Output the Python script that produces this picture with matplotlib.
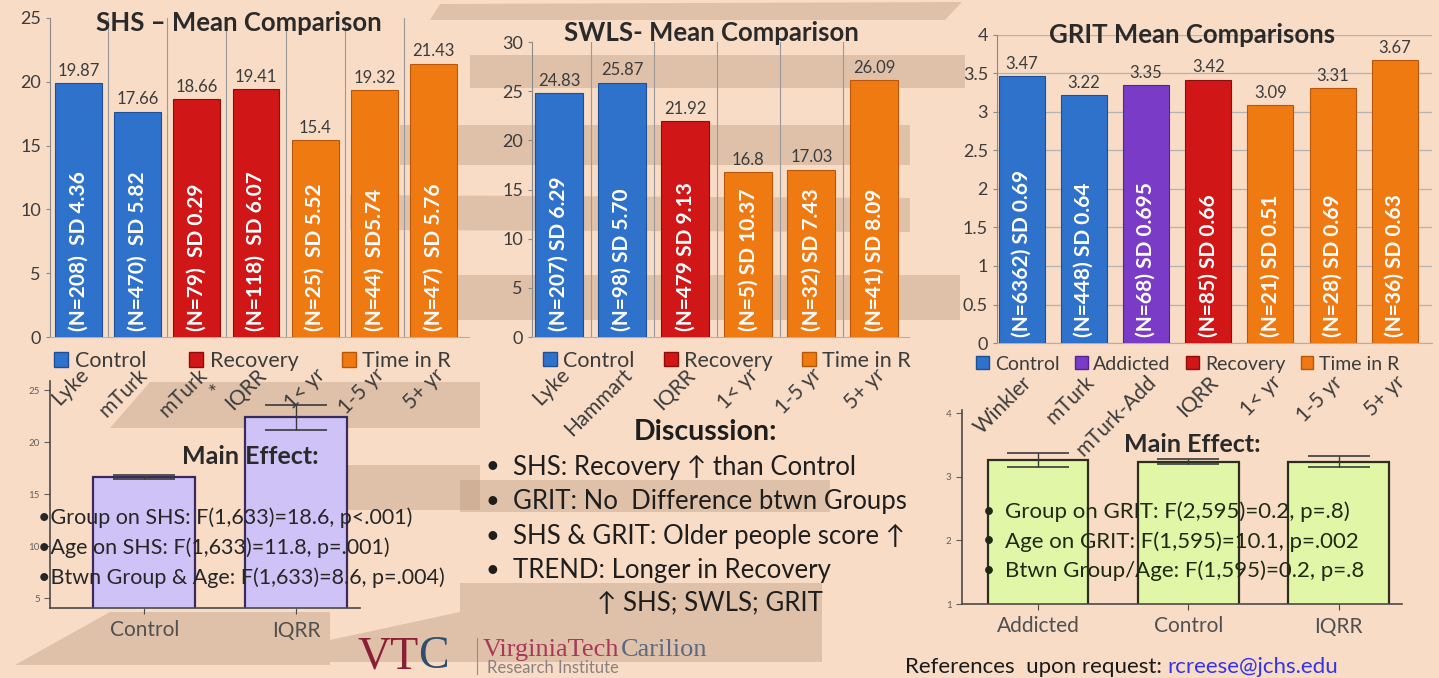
import matplotlib
matplotlib.use("Agg")
import numpy as np
import matplotlib.pyplot as plt
from matplotlib.patches import Patch, Polygon
from matplotlib.ticker import FixedLocator

# poster size in pixels
W, H = 1439, 678

# SHS means
shs_labels = ['Lyke', 'mTurk', 'mTurk\n*', 'IQRR', '1< yr', '1-5 yr', '5+ yr']
shs_means = [19.87, 17.66, 18.66, 19.41, 15.4, 19.32, 21.43]
shs_inbar = ['(N=208)  SD 4.36', '(N=470)  SD 5.82', '(N=79)  SD 0.29', '(N=118)  SD 6.07',
             '(N=25)  SD 5.52', '(N=44)  SD5.74', '(N=47)  SD 5.76']
shs_group = ['Control', 'Control', 'Recovery', 'Recovery', 'Time in R', 'Time in R', 'Time in R']

# SWLS means
swls_labels = ['Lyke', 'Hammart', 'IQRR', '1< yr', '1-5 yr', '5+ yr']
swls_means = [24.83, 25.87, 21.92, 16.8, 17.03, 26.09]
swls_inbar = ['(N=207) SD 6.29', '(N=98) SD 5.70', '(N=479 SD 9.13', '(N=5) SD 10.37',
              '(N=32) SD 7.43', '(N=41) SD 8.09']
swls_group = ['Control', 'Control', 'Recovery', 'Time in R', 'Time in R', 'Time in R']

# GRIT means
grit_labels = ['Winkler', 'mTurk', 'mTurk-Add', 'IQRR', '1< yr', '1-5 yr', '5+ yr']
grit_means = [3.47, 3.22, 3.35, 3.42, 3.09, 3.31, 3.67]
grit_inbar = ['(N=6362) SD 0.69', '(N=448) SD 0.64', '(N=68) SD 0.695', '(N=85) SD 0.66',
              '(N=21) SD 0.51', '(N=28) SD 0.69', '(N=36) SD 0.63']
grit_group = ['Control', 'Control', 'Addicted', 'Recovery', 'Time in R', 'Time in R', 'Time in R']

# main effect charts
shs_me_groups = ['Control', 'IQRR']
shs_me_means = [16.6, 22.4]
shs_me_err = [0.2, 1.2]
grit_me_groups = ['Addicted', 'Control', 'IQRR']
grit_me_means = [3.26, 3.24, 3.24]
grit_me_err = [0.11, 0.04, 0.09]

shs_notes = ['•Group on SHS: F(1,633)=18.6, p<.001)',
             '•Age on SHS: F(1,633)=11.8, p=.001)',
             '•Btwn Group & Age: F(1,633)=8.6, p=.004)']
grit_notes = ['Group on GRIT: F(2,595)=0.2, p=.8)',
              'Age on GRIT: F(1,595)=10.1, p=.002',
              'Btwn Group/Age: F(1,595)=0.2, p=.8']
discussion = ['SHS: Recovery \u2191 than Control',
              'GRIT: No  Difference btwn Groups',
              'SHS & GRIT: Older people score \u2191',
              'TREND: Longer in Recovery']

colors = {'Control': '#2f72cc', 'Addicted': '#7a3cc6', 'Recovery': '#d01616', 'Time in R': '#f07a12'}
edges = {'Control': '#1d4f96', 'Addicted': '#53258f', 'Recovery': '#8e0c0c', 'Time in R': '#b9560a'}

BG = '#f8dcc6'
TAN = '#b8977b'
TXT = '#3c3c3c'

plt.rcParams['font.family'] = ['Lato', 'DejaVu Sans']


def fx(x):
    return x / W


def fy(y):
    return 1 - y / H


def add_ax(left, top, right, bottom):
    ax = fig.add_axes([fx(left), fy(bottom), (right - left) / W, (bottom - top) / H])
    ax.set_facecolor('none')
    return ax


fig = plt.figure(figsize=(W / 100, H / 100), dpi=100, facecolor=BG)
renderer = fig.canvas.get_renderer()

# decorative shelves in the background
bands = [
    [(440, 4), (962, 2), (945, 20), (430, 20)],
    [(470, 55), (965, 55), (965, 88), (470, 88)],
    [(400, 125), (910, 125), (910, 165), (400, 165)],
    [(350, 195), (910, 198), (910, 232), (350, 230)],
    [(420, 275), (960, 275), (960, 320), (420, 320)],
    [(150, 382), (480, 382), (480, 428), (110, 428)],
    [(330, 465), (480, 465), (480, 510), (330, 510)],
    [(460, 480), (830, 480), (830, 512), (460, 512)],
    [(460, 583), (822, 583), (822, 662), (330, 662), (330, 640), (460, 612)],
    [(110, 612), (330, 612), (330, 665), (15, 665)],
]
for b in bands:
    fig.patches.append(Polygon([(fx(x), fy(y)) for x, y in b], closed=True,
                               transform=fig.transFigure, facecolor=TAN, alpha=0.38,
                               edgecolor='none', zorder=-5))


def mean_chart(box, xlim, ylim, yticks, labels, means, inbar, groups, title, title_xy,
               legend_order, legend_x, colsp, hgrid=False, width=0.78, xpad=20, legfs=15.5):
    ax = add_ax(*box)
    x = np.arange(len(means))
    cols = [colors[g] for g in groups]
    ecs = [edges[g] for g in groups]
    bars = ax.bar(x, means, width=width, color=cols, edgecolor=ecs, linewidth=0.8, zorder=3)
    ax.set_xlim(*xlim)
    ax.set_ylim(*ylim)
    ax.set_yticks(yticks)
    ax.set_yticklabels([f'{t:g}' for t in yticks])
    if hgrid:
        ax.grid(True, axis='y', color='#b4b4b4', linewidth=0.9, zorder=0)
    else:
        ax.xaxis.set_minor_locator(FixedLocator(x[:-1] + 0.5))
        ax.grid(True, axis='x', which='minor', color='#9a9a9a', linewidth=0.8, zorder=0)
    for s in ['top', 'right']:
        ax.spines[s].set_visible(False)
    ax.spines['left'].set_color('#8a8a8a')
    ax.spines['bottom'].set_color('#b0b0b0')
    ax.tick_params(axis='y', labelsize=13, colors=TXT, length=3, color='#8a8a8a')
    ax.set_xticks(x)
    ax.set_xticklabels(labels, rotation=45, ha='right', va='top', rotation_mode='anchor',
                       multialignment='right', fontsize=15, color=TXT)
    ax.tick_params(axis='x', length=0, pad=xpad, which='both')
    for b, v, t in zip(bars, means, inbar):
        ax.annotate(f'{v:g}', (b.get_x() + b.get_width() / 2, v), xytext=(0, 3),
                    textcoords='offset points', ha='center', va='bottom', fontsize=12,
                    color=TXT, zorder=4)
        ax.annotate(t, (b.get_x() + b.get_width() / 2, 0), xytext=(0, 4),
                    textcoords='offset points', ha='center', va='bottom', rotation=90,
                    fontsize=15, fontweight='bold', color='white', zorder=4)
    ax.text(title_xy[0], title_xy[1], title, transform=ax.transAxes, ha='center',
            va='center', fontsize=18.5, fontweight='bold', color='#2a2a2a', zorder=5)
    handles = [Patch(facecolor=colors[g], edgecolor=edges[g], label=g) for g in legend_order]
    ax.legend(handles=handles, loc='upper left', bbox_to_anchor=(legend_x, -0.01), ncol=len(handles),
              frameon=False, fontsize=legfs, handlelength=0.65, handleheight=0.65,
              handletextpad=0.3, columnspacing=colsp, borderpad=0, labelcolor=TXT)
    return ax


mean_chart((50, 18, 469, 337), (-0.48, 6.6), (0, 25), [0, 5, 10, 15, 20, 25],
           shs_labels, shs_means, shs_inbar, shs_group, 'SHS \u2013 Mean Comparison', (0.45, 0.985),
           ['Control', 'Recovery', 'Time in R'], -0.015, 2.0, width=0.79)

mean_chart((532, 42, 909, 337), (-0.43, 5.55), (0, 30), [0, 5, 10, 15, 20, 25, 30],
           swls_labels, swls_means, swls_inbar, swls_group, 'SWLS- Mean Comparison', (0.477, 1.03),
           ['Control', 'Recovery', 'Time in R'], 0.0, 1.35, width=0.76)

mean_chart((997, 35, 1432, 343), (-0.4, 6.6), (0, 4), [0, 0.5, 1, 1.5, 2, 2.5, 3, 3.5, 4],
           grit_labels, grit_means, grit_inbar, grit_group, 'GRIT Mean Comparisons', (0.448, 1.0),
           ['Control', 'Addicted', 'Recovery', 'Time in R'], -0.07, 0.8, hgrid=True, width=0.74,
           xpad=21, legfs=14)


def effect_chart(box, xlim, ylim, yticks, groups, means, err, face, edge):
    ax = add_ax(*box)
    x = np.arange(len(means))
    ax.bar(x, means, width=0.67, color=face, edgecolor=edge, linewidth=1.6, zorder=2,
           yerr=err, error_kw=dict(ecolor='#3a3a3a', capsize=22, elinewidth=1.0, capthick=1.2))
    ax.set_xlim(*xlim)
    ax.set_ylim(*ylim)
    ax.set_yticks(yticks)
    ax.set_xticks(x)
    ax.set_xticklabels(groups, fontsize=15, color='#505050')
    for s in ['top', 'right']:
        ax.spines[s].set_visible(False)
    for s in ['left', 'bottom']:
        ax.spines[s].set_color('#4a4a4a')
        ax.spines[s].set_linewidth(1.2)
    ax.tick_params(axis='y', labelsize=7, colors='#606060', length=4)
    ax.tick_params(axis='x', length=4, pad=5, color='#4a4a4a')
    return ax


effect_chart((50, 381, 360, 608), (-0.62, 1.42), (4.04, 25.87), [5, 10, 15, 20, 25],
             shs_me_groups, shs_me_means, shs_me_err, '#cfc2f6', '#3b2b5c')
effect_chart((962, 410, 1402, 604), (-0.505, 2.42), (1, 4.05), [1, 2, 3, 4],
             grit_me_groups, grit_me_means, grit_me_err, '#e2f6a8', '#2e2e1e')

# main effect text, left
fig.text(fx(250), fy(457), 'Main Effect:', ha='center', va='center', fontsize=18,
         fontweight='bold', color='#2a2a2a')
for i, t in enumerate(shs_notes):
    fig.text(fx(38), fy(518 + 30 * i), t, ha='left', va='center', fontsize=15.5,
             color='#262626')

# main effect text, right
fig.text(fx(1192), fy(445), 'Main Effect:', ha='center', va='center', fontsize=18,
         fontweight='bold', color='#2a2a2a')
for i, t in enumerate(grit_notes):
    fig.text(fx(983), fy(512 + 29.5 * i), '\u2022', ha='left', va='center', fontsize=15,
             color='#1e2a12')
    fig.text(fx(1005), fy(512 + 29.5 * i), t, ha='left', va='center', fontsize=16,
             color='#1e2a12')

# discussion
fig.text(fx(706), fy(432), 'Discussion:', ha='center', va='center', fontsize=20.5,
         fontweight='bold', color='#1e1e1e')
for i, t in enumerate(discussion):
    fig.text(fx(486), fy(467 + 34.5 * i), '\u2022', ha='left', va='center', fontsize=17,
             color='#1e1e1e')
    fig.text(fx(513), fy(467 + 34.5 * i), t, ha='left', va='center', fontsize=18.5,
             color='#1e1e1e', family=['Lato', 'DejaVu Sans'])
fig.text(fx(597), fy(603), '\u2191 SHS; SWLS; GRIT', ha='left', va='center', fontsize=18.5,
         color='#1e1e1e', family=['Lato', 'DejaVu Sans'])

# logo
vt = fig.text(fx(358), fy(657), 'VT', ha='left', va='center', fontsize=33, color='#8a2036',
              family='Liberation Serif')
bb = vt.get_window_extent(renderer)
fig.text(bb.x1 / W - 0.001, fy(657), 'C', ha='left', va='center', fontsize=33, color='#2f4e6e',
         family='Liberation Serif')
fig.lines.append(plt.Line2D([fx(477), fx(477)], [fy(638), fy(674)], transform=fig.transFigure,
                            color='#9a8a8a', linewidth=0.8))
vtech = fig.text(fx(483), fy(650), 'VirginiaTech', ha='left', va='center', fontsize=19,
                 color='#a8385a', family='Liberation Serif')
bb = vtech.get_window_extent(renderer)
fig.text(bb.x1 / W + 0.001, fy(650), 'Carilion', ha='left', va='center', fontsize=19,
         color='#5a6a84', family='Liberation Serif')
fig.text(fx(487), fy(668), 'Research Institute', ha='left', va='center', fontsize=12,
         color='#8a8080')

# references
ref = fig.text(fx(905), fy(677), 'References  upon request: ', ha='left', va='bottom',
               fontsize=16, color='#1a1a1a')
bb = ref.get_window_extent(renderer)
fig.text(bb.x1 / W, fy(677), 'rcreese@jchs.edu', ha='left', va='bottom', fontsize=16,
         color='#3535e6')

fig.savefig('out.png', dpi=100, facecolor=BG)
